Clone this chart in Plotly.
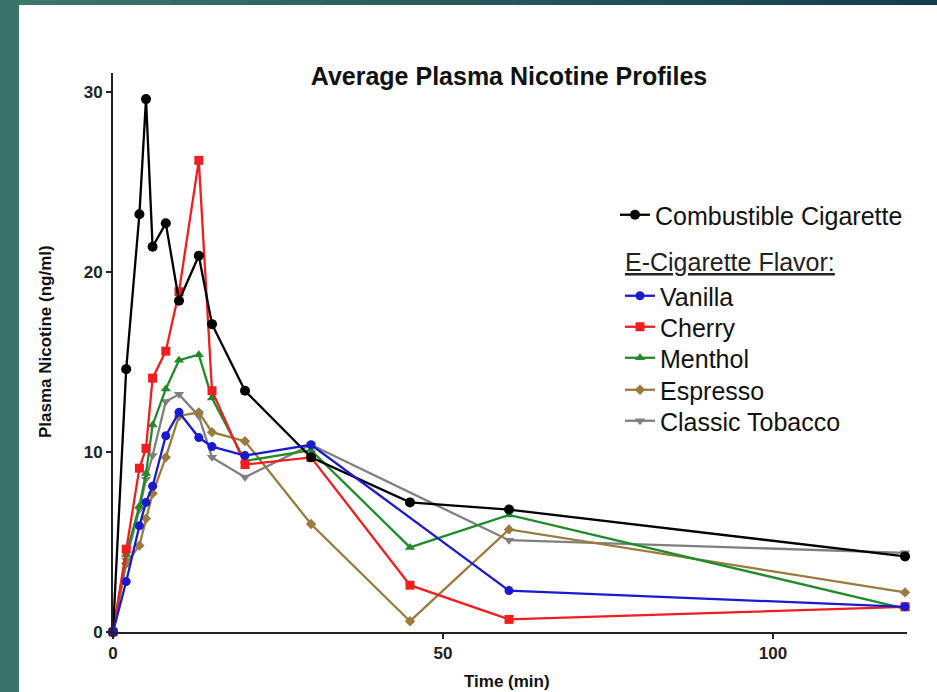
import plotly.graph_objects as go

# ---- data ----
times = [0, 2, 4, 5, 6, 8, 10, 13, 15, 20, 30, 45, 60, 120]
combustible = [0, 14.6, 23.2, 29.6, 21.4, 22.7, 18.4, 20.9, 17.1, 13.4, 9.7, 7.2, 6.8, 4.2]
cherry = [0, 4.6, 9.1, 10.2, 14.1, 15.6, 18.9, 26.2, 13.4, 9.3, 9.7, 2.6, 0.7, 1.4]
menthol = [0, 4.3, 7.0, 8.8, 11.5, 13.5, 15.1, 15.4, 13.0, 9.5, 10.1, 4.7, 6.5, 1.3]
espresso = [0, 3.8, 4.8, 6.3, 7.7, 9.7, 12.0, 12.2, 11.1, 10.6, 6.0, 0.6, 5.7, 2.2]
times_b = [0, 2, 4, 5, 6, 8, 10, 13, 15, 20, 30, 60, 120]
vanilla = [0, 2.8, 5.9, 7.2, 8.1, 10.9, 12.2, 10.8, 10.3, 9.8, 10.4, 2.3, 1.4]
classic = [0, 4.0, 6.8, 8.5, 9.8, 12.8, 13.2, 12.0, 9.7, 8.6, 10.4, 5.1, 4.4]

x_ticks = [0, 50, 100]
y_ticks = [0, 10, 20, 30]

# ---- layout geometry (pixels) ----
W, H = 937, 692
L, R, T, B = 113, 907, 73, 632
pw, ph = R - L, B - T

def px(x):
    return (x - L) / pw

def py(y):
    return (B - y) / ph

FONT = "Liberation Sans, Arial, sans-serif"
LEGFONT = 25

fig = go.Figure()

# name, x, y, colour, symbol, size, legend id, legend x px, legend y px
series = [
    ("Classic Tobacco", times_b, classic, "#7f7f7f", "triangle-down", 9, "legend6", 620, 421),
    ("Espresso", times, espresso, "#9c7a3e", "diamond", 8, "legend5", 620, 390),
    ("Menthol", times, menthol, "#1e8c28", "triangle-up", 9, "legend4", 620, 358),
    ("Cherry", times, cherry, "#f01e1e", "square", 9, "legend3", 620, 327),
    ("Combustible Cigarette", times, combustible, "#000000", "circle", 10, "legend", 615, 215),
    ("Vanilla", times_b, vanilla, "#1a1ad0", "circle", 9, "legend2", 620, 296),
]

legends = {}
for name, xs, ys, col, sym, size, leg, lx, ly in series:
    fig.add_trace(go.Scatter(
        x=xs, y=ys, name=name, mode="lines+markers",
        line=dict(color=col, width=2.3),
        marker=dict(color=col, symbol=sym, size=size),
        cliponaxis=False, legend=leg, showlegend=True,
    ))
    legends[leg] = dict(x=px(lx), y=py(ly), xanchor="left", yanchor="middle",
                        bgcolor="rgba(0,0,0,0)", borderwidth=0, visible=True,
                        font=dict(size=LEGFONT, color="#111111", family=FONT),
                        itemwidth=30)

shapes = []
# slide-like background: left strip and top gradient band
shapes.append(dict(type="rect", xref="paper", yref="paper",
                   x0=px(0), x1=px(19), y0=py(H), y1=py(0),
                   fillcolor="#3a7468", line_width=0, layer="below"))
c0 = (58, 118, 106)
c1 = (22, 60, 80)
nseg = 24
for i in range(nseg):
    f = i / (nseg - 1)
    c = tuple(int(c0[k] + (c1[k] - c0[k]) * f) for k in range(3))
    xa = 19 + (W - 19) * i / nseg
    xb = 19 + (W - 19) * (i + 1) / nseg + 1
    shapes.append(dict(type="rect", xref="paper", yref="paper",
                       x0=px(xa), x1=px(xb), y0=py(5), y1=py(0),
                       fillcolor="rgb(%d,%d,%d)" % c, line_width=0, layer="below"))

fig.update_layout(
    width=W, height=H,
    margin=dict(l=L, r=W - R, t=T, b=H - B, pad=0),
    paper_bgcolor="white", plot_bgcolor="white",
    font=dict(family=FONT, color="#111111"),
    showlegend=True,
    shapes=shapes,
    title=dict(text="<b>Average Plasma Nicotine Profiles</b>",
               x=px(509), xanchor="center", xref="paper",
               y=1 - 76 / H, yanchor="middle",
               font=dict(size=25, color="#111111", family=FONT)),
    xaxis=dict(range=[0, 120.3], tickvals=x_ticks, showgrid=False, zeroline=False,
               showline=True, linecolor="#222222", linewidth=2,
               ticks="outside", ticklen=5, tickwidth=2, tickcolor="#222222",
               tickfont=dict(size=17, color="#222222", family=FONT, weight="bold")),
    yaxis=dict(range=[0, 31.05], tickvals=y_ticks, showgrid=False, zeroline=False,
               showline=True, linecolor="#222222", linewidth=2,
               ticks="outside", ticklen=5, tickwidth=2, tickcolor="#222222",
               tickfont=dict(size=17, color="#222222", family=FONT, weight="bold")),
    annotations=[
        dict(text="E-Cigarette Flavor:", xref="paper", yref="paper",
             x=px(623), y=py(262), showarrow=False,
             xanchor="left", yanchor="middle",
             font=dict(size=LEGFONT, color="#222222", family=FONT,
                       lineposition="under")),
        dict(text="<b>Plasma Nicotine (ng/ml)</b>", xref="paper", yref="paper",
             x=px(45), y=py(342), textangle=-90, showarrow=False,
             xanchor="center", yanchor="middle",
             font=dict(size=17, color="#111111", family=FONT)),
        dict(text="<b>Time (min)</b>", xref="paper", yref="paper",
             x=px(507), y=py(681), showarrow=False,
             xanchor="center", yanchor="middle",
             font=dict(size=17, color="#111111", family=FONT)),
    ],
)
fig.update_layout(**legends)

fig.write_html("out.html", config={"displayModeBar": False},
               post_script="document.body.style.margin='0';")
